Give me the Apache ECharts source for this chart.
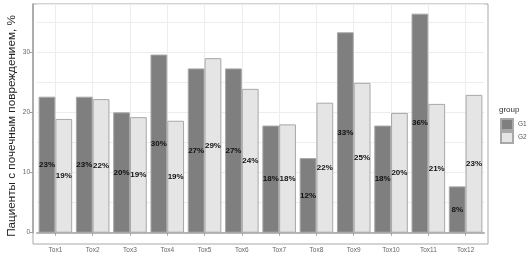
<!DOCTYPE html>
<html><head><meta charset="utf-8">
<script src="https://cdn.jsdelivr.net/npm/echarts@6/dist/echarts.min.js"></script>
<style>html,body{margin:0;padding:0;background:#fff}#c{width:532px;height:267px}</style>
</head><body><div id="c"></div>
<script>
const categories = ['Tox1','Tox2','Tox3','Tox4','Tox5','Tox6','Tox7','Tox8','Tox9','Tox10','Tox11','Tox12'];
const g1Values = [22.6, 22.6, 20.0, 29.6, 27.3, 27.3, 17.8, 12.4, 33.3, 17.8, 36.4, 7.7];
const g2Values = [18.9, 22.2, 19.2, 18.6, 29.0, 23.9, 18.0, 21.6, 24.9, 19.9, 21.4, 22.9];
const g1Labels = ['23%','23%','20%','30%','27%','27%','18%','12%','33%','18%','36%','8%'];
const g2Labels = ['19%','22%','19%','19%','29%','24%','18%','22%','25%','20%','21%','23%'];
const yTicks = [0, 10, 20, 30];
const seriesNames = ['G1', 'G2'];
const yTitle = 'Пациенты с почечным повреждением, %';

const font = 'Liberation Sans';
const chart = echarts.init(document.getElementById('c'), null, {renderer: 'canvas'});
const panel = {x1: 33, y1: 4, x2: 488, y2: 244};
const pad = (panel.x2 - panel.x1) / 12.2 * 0.1;

function labelOpt(arr) {
  return {
    show: true, position: 'inside', color: '#111', fontSize: 8, fontWeight: 'bold', fontFamily: font,
    formatter: p => arr[p.dataIndex]
  };
}

chart.setOption({
  animation: false,
  textStyle: {fontFamily: font},
  grid: {left: panel.x1 + pad, right: 532 - (panel.x2 - pad), top: panel.y1, bottom: 267 - 232.7},
  legend: {
    orient: 'vertical', left: 500, top: 118, padding: 0, itemWidth: 12, itemHeight: 11, itemGap: 0,
    icon: 'rect', data: seriesNames,
    textStyle: {fontSize: 6.5, color: '#555', fontFamily: font}
  },
  graphic: [
    {type: 'rect', silent: true, z: 0,
     shape: {x: panel.x1, y: panel.y1, width: panel.x2 - panel.x1, height: panel.y2 - panel.y1},
     style: {fill: 'none', stroke: '#a8a8a8', lineWidth: 1}},
    {type: 'text', left: 499, top: 106,
     style: {text: 'group', fontSize: 8, fill: '#333', fontFamily: font}},
    {type: 'text', x: 12, y: 126, rotation: Math.PI / 2,
     style: {text: yTitle, fontSize: 11.7, fill: '#222', fontFamily: font, align: 'center', verticalAlign: 'middle'}}
  ],
  xAxis: {
    type: 'category', data: categories, offset: panel.y2 - 232.7,
    axisLine: {show: true, lineStyle: {color: '#a0a0a0', width: 1.5}},
    axisTick: {show: true, alignWithLabel: true, length: 3, lineStyle: {color: '#a0a0a0'}},
    axisLabel: {fontSize: 6.5, color: '#666', margin: 3, fontFamily: font},
    splitLine: {show: true, alignWithLabel: true, lineStyle: {color: '#ededed', width: 1}}
  },
  yAxis: [
    {type: 'value', min: 0, max: 38, interval: 5,
     axisLine: {show: false}, axisTick: {show: false}, axisLabel: {show: false},
     splitLine: {show: true, lineStyle: {color: '#ededed', width: 1}}},
    {type: 'value', min: 0, max: 38, position: 'left', offset: pad,
     axisLine: {show: true, lineStyle: {color: '#a0a0a0', width: 1.5}},
     axisTick: {show: true, length: 3, customValues: yTicks, lineStyle: {color: '#a0a0a0'}},
     axisLabel: {fontSize: 6.5, color: '#666', margin: 3, customValues: yTicks, fontFamily: font},
     splitLine: {show: false}}
  ],
  series: [
    {name: seriesNames[0], type: 'bar', data: g1Values, barGap: '0%', barCategoryGap: '10%',
     itemStyle: {color: '#7f7f7f', borderColor: '#a8a8a8', borderWidth: 1},
     label: labelOpt(g1Labels)},
    {name: seriesNames[1], type: 'bar', data: g2Values, barGap: '0%', barCategoryGap: '10%',
     itemStyle: {color: '#e5e5e5', borderColor: '#a8a8a8', borderWidth: 1},
     label: labelOpt(g2Labels)}
  ]
});
</script></body></html>
